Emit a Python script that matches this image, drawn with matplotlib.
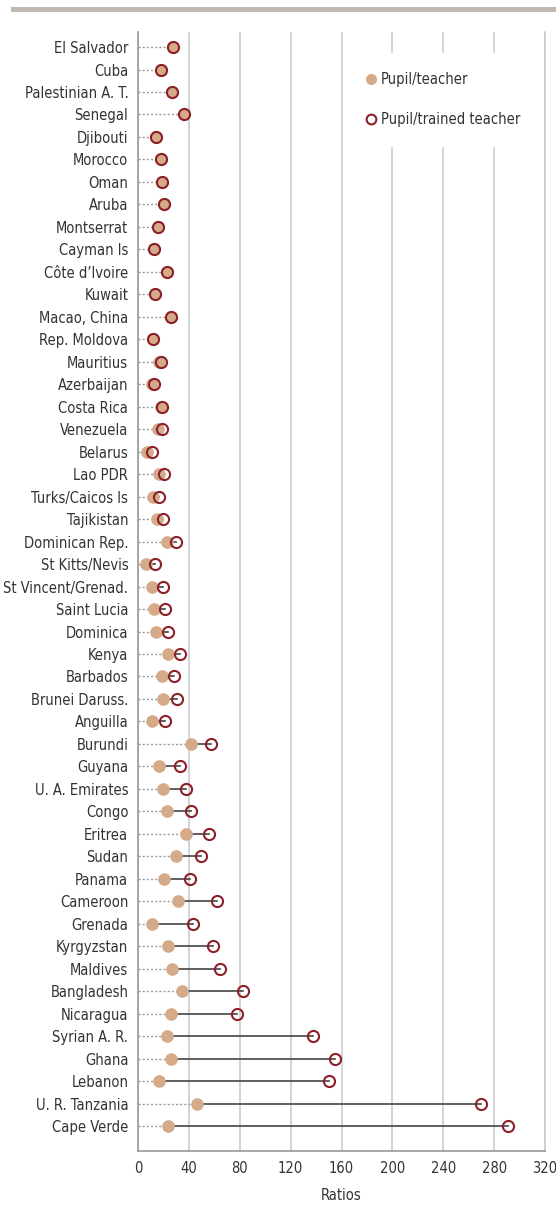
import matplotlib
matplotlib.use('Agg')
import matplotlib.pyplot as plt
from matplotlib import font_manager as fm
from matplotlib.patches import Rectangle
from matplotlib.lines import Line2D
import numpy as np

countries = ['El Salvador', 'Cuba', 'Palestinian A. T.', 'Senegal', 'Djibouti',
             'Morocco', 'Oman', 'Aruba', 'Montserrat', 'Cayman Is',
             'Côte d\u2019Ivoire', 'Kuwait', 'Macao, China', 'Rep. Moldova',
             'Mauritius', 'Azerbaijan', 'Costa Rica', 'Venezuela', 'Belarus',
             'Lao PDR', 'Turks/Caicos Is', 'Tajikistan', 'Dominican Rep.',
             'St Kitts/Nevis', 'St Vincent/Grenad.', 'Saint Lucia', 'Dominica',
             'Kenya', 'Barbados', 'Brunei Daruss.', 'Anguilla', 'Burundi',
             'Guyana', 'U. A. Emirates', 'Congo', 'Eritrea', 'Sudan', 'Panama',
             'Cameroon', 'Grenada', 'Kyrgyzstan', 'Maldives', 'Bangladesh',
             'Nicaragua', 'Syrian A. R.', 'Ghana', 'Lebanon', 'U. R. Tanzania',
             'Cape Verde']

pupil_teacher = [27.5, 17.8, 26.7, 36.5, 14.5, 17.8, 18.6, 20.7, 15.7, 12.6,
                 22.5, 13.6, 25.7, 11.8, 16.5, 11.0, 18.0, 16.0, 6.8, 16.8,
                 12.0, 14.7, 22.5, 6.3, 11.3, 12.6, 14.2, 23.3, 18.6, 19.4,
                 10.7, 41.4, 16.8, 19.4, 22.5, 37.7, 29.6, 20.4, 31.7, 10.7,
                 23.9, 26.5, 34.9, 25.7, 22.5, 25.7, 16.8, 46.6, 23.9]

pupil_trained = [27.5, 17.8, 26.7, 36.5, 14.5, 17.8, 18.6, 20.7, 15.7, 12.6,
                 22.5, 13.6, 25.7, 11.8, 17.8, 12.3, 19.1, 19.1, 10.7, 20.4,
                 16.8, 19.9, 29.6, 13.4, 19.4, 21.5, 23.3, 32.8, 28.3, 30.4,
                 21.2, 57.1, 33.3, 37.5, 41.4, 56.1, 49.5, 41.1, 61.9, 43.5,
                 59.2, 64.5, 82.8, 77.6, 137.3, 154.9, 150.4, 269.4, 291.1]

xticks = [0, 40, 80, 120, 160, 200, 240, 280, 320]

names = {f.name for f in fm.fontManager.ttflist}
if 'Liberation Sans Narrow' in names:
    plt.rcParams['font.family'] = ['Liberation Sans Narrow', 'DejaVu Sans']
else:
    plt.rcParams['font.family'] = ['DejaVu Sans']
    plt.rcParams['font.stretch'] = 'condensed'

tan = '#d4aa88'
red = '#8c1f28'
txt = '#333333'

fig = plt.figure(figsize=(5.56, 12.06), dpi=100)
ax = fig.add_axes([138/556, 1-1151/1206, 407/556, 1119/1206])

y = np.arange(len(countries))
for i in range(len(countries)):
    a = pupil_teacher[i]
    b = pupil_trained[i]
    # dotted guide from the axis, solid link between the two ratios
    ax.plot([0, a], [y[i], y[i]], color='#999999', lw=1, ls=(0, (1.5, 1.5)), zorder=2)
    ax.plot([a, b], [y[i], y[i]], color='#444444', lw=1.2, zorder=2)

ax.plot(pupil_teacher, y, 'o', ms=9.1, color=tan, mec=tan, mew=0, zorder=3,
        label='Pupil/teacher')
ax.plot(pupil_trained, y, 'o', ms=8.0, mfc='none', mec=red, mew=1.5, zorder=4,
        label='Pupil/trained teacher')

ax.set_xlim(0, 320)
ax.set_ylim(len(countries) - 1 + 1.11, -0.67)
ax.set_xticks(xticks)
ax.set_yticks(y)
ax.set_yticklabels(countries)
ax.tick_params(axis='both', length=0, labelsize=10.5, colors=txt)
ax.tick_params(axis='y', pad=7)
ax.tick_params(axis='x', pad=7)
ax.grid(axis='x', color='#cccccc', lw=1.2, zorder=0)
ax.set_axisbelow(True)
ax.spines['top'].set_visible(False)
ax.spines['right'].set_color('#cccccc')
ax.spines['right'].set_linewidth(1.2)
ax.spines['left'].set_color('#999999')
ax.spines['bottom'].set_color('#999999')
ax.spines['left'].set_linewidth(1.2)
ax.spines['bottom'].set_linewidth(1.2)
ax.set_xlabel('Ratios', fontsize=10.5, color=txt, labelpad=9)

handles = [Line2D([], [], marker='o', ls='none', ms=8, color=tan, mew=0),
           Line2D([], [], marker='o', ls='none', ms=7, mfc='none', mec=red, mew=1.5)]
leg = ax.legend(handles, ['Pupil/teacher', 'Pupil/trained teacher'],
                loc='upper left', bbox_to_anchor=(346/556, 1-53/1206),
                bbox_transform=fig.transFigure, borderaxespad=0,
                frameon=True, fancybox=False, framealpha=1, edgecolor='white',
                facecolor='white', fontsize=10.5, labelspacing=1.7,
                handlelength=0.8, handletextpad=0.3, borderpad=1.3,
                labelcolor=txt)
leg.set_zorder(5)

fig.add_artist(Rectangle((11/556, 1-12/1206), 1, 5/1206, transform=fig.transFigure,
                         color='#c2b8ad', lw=0))

fig.savefig('out.png', dpi=100)
